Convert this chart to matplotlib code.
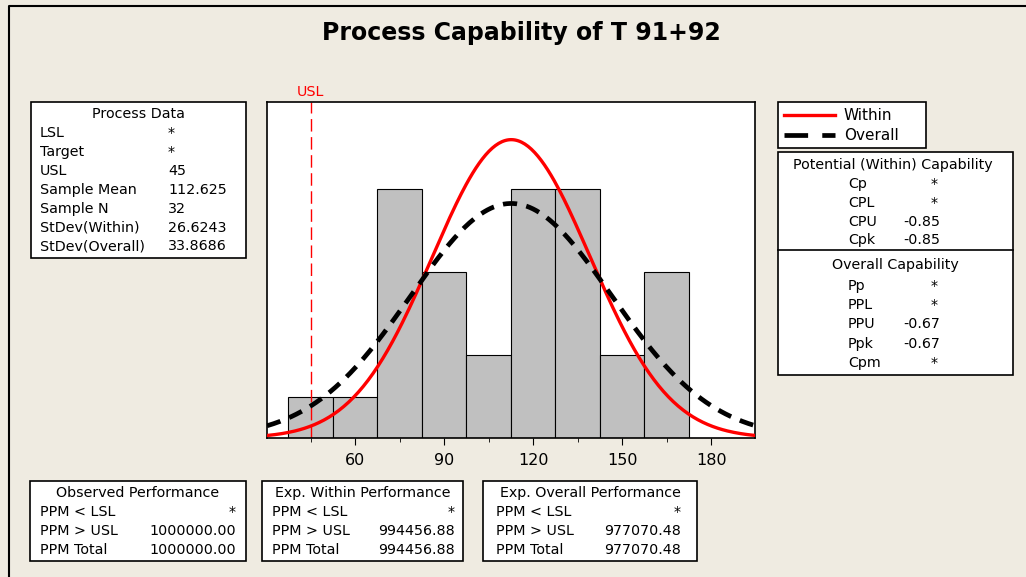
import numpy as np
import matplotlib.pyplot as plt
from matplotlib.patches import Rectangle
from matplotlib.lines import Line2D

# histogram data (counts per bin)
bin_edges = [37.5, 52.5, 67.5, 82.5, 97.5, 112.5, 127.5, 142.5, 157.5, 172.5]
counts = [1, 1, 6, 4, 2, 6, 6, 2, 4]

usl = 45
mean = 112.625
n = 32
sd_within = 26.6243
sd_overall = 33.8686

xticks = [60, 90, 120, 150, 180]
minor_ticks = [45, 75, 105, 135, 165]

process_labels = ["LSL", "Target", "USL", "Sample Mean", "Sample N", "StDev(Within)", "StDev(Overall)"]
process_values = ["*", "*", "45", "112.625", "32", "26.6243", "33.8686"]

pot_labels = ["Cp", "CPL", "CPU", "Cpk"]
pot_values = ["*", "*", "-0.85", "-0.85"]
ovr_labels = ["Pp", "PPL", "PPU", "Ppk", "Cpm"]
ovr_values = ["*", "*", "-0.67", "-0.67", "*"]

perf_labels = ["PPM < LSL", "PPM > USL", "PPM Total"]
observed = ["*", "1000000.00", "1000000.00"]
exp_within = ["*", "994456.88", "994456.88"]
exp_overall = ["*", "977070.48", "977070.48"]

W, H = 1026, 577
BG = '#EFEBE1'
FS = 10.3

fig = plt.figure(figsize=(W / 100, H / 100), dpi=100, facecolor=BG)


def fx(px):
    return px / W


def fy(py):
    return 1 - py / H


def txt(px, py, s, ha='left', **kw):
    fig.text(fx(px), fy(py), s, ha=ha, va='center', fontsize=kw.pop('fontsize', FS), **kw)


def box(x0, y0, x1, y1):
    fig.patches.append(Rectangle((fx(x0), fy(y1)), fx(x1) - fx(x0), fy(y0) - fy(y1),
                                 transform=fig.transFigure, facecolor='white',
                                 edgecolor='black', linewidth=1.2))


# outer frame (top and left only visible)
fig.lines.append(Line2D([fx(9), fx(9), 1], [0, fy(6), fy(6)], transform=fig.transFigure,
                        color='black', linewidth=1.5))

fig.text(fx(521), fy(33), "Process Capability of T 91+92", ha='center', va='center',
         fontsize=17, fontweight='bold')

# main histogram axes
ax = fig.add_axes([fx(267), fy(438), fx(755) - fx(267), fy(102) - fy(438)])
widths = np.diff(bin_edges)
ax.bar(bin_edges[:-1], counts, width=widths, align='edge', color='#C0C0C0',
       edgecolor='black', linewidth=0.8, zorder=1)

x = np.linspace(30.3, 194.8, 300)
scale = n * widths[0]
y_w = scale * np.exp(-0.5 * ((x - mean) / sd_within) ** 2) / (sd_within * np.sqrt(2 * np.pi))
y_o = scale * np.exp(-0.5 * ((x - mean) / sd_overall) ** 2) / (sd_overall * np.sqrt(2 * np.pi))
ax.plot(x, y_w, color='red', linewidth=2.4, zorder=3)
ax.plot(x, y_o, color='black', linewidth=3.4, dashes=(3, 2), zorder=3)
ax.axvline(usl, color='red', linewidth=1, dashes=(9, 4), zorder=2)
ax.text(usl, 8.18, "USL", color='red', ha='center', va='bottom', fontsize=FS)

ax.set_xlim(30.3, 194.8)
ax.set_ylim(0, 8.1)
ax.set_xticks(xticks)
ax.set_xticks(minor_ticks, minor=True)
ax.set_yticks([])
ax.tick_params(axis='x', which='major', length=5, labelsize=11.5, pad=6)
ax.tick_params(axis='x', which='minor', length=3)
for s in ax.spines.values():
    s.set_linewidth(1.2)

# Process Data box
box(31, 102, 246, 258)
txt(138, 114, "Process Data", ha='center')
for i, (l, v) in enumerate(zip(process_labels, process_values)):
    yy = 133 + i * 18.9
    txt(40, yy, l)
    txt(168, yy, v)

# legend box
box(778, 102, 926, 148)
fig.lines.append(Line2D([fx(784), fx(835)], [fy(115), fy(115)], transform=fig.transFigure,
                        color='red', linewidth=2.4))
fig.lines.append(Line2D([fx(784), fx(835)], [fy(135), fy(135)], transform=fig.transFigure,
                        color='black', linewidth=3.4, dashes=(5, 3)))
txt(844, 115, "Within", fontsize=11)
txt(844, 135, "Overall", fontsize=11)

# capability box
box(778, 152, 1013, 375)
fig.lines.append(Line2D([fx(778), fx(1013)], [fy(250), fy(250)], transform=fig.transFigure,
                        color='black', linewidth=1.2))
txt(893, 165, "Potential (Within) Capability", ha='center')
for i, (l, v) in enumerate(zip(pot_labels, pot_values)):
    yy = 184 + i * 18.8
    txt(848, yy, l)
    if v == "*":
        txt(934, yy, v, ha='center')
    else:
        txt(940, yy, v, ha='right')
txt(895, 265, "Overall Capability", ha='center')
for i, (l, v) in enumerate(zip(ovr_labels, ovr_values)):
    yy = 286 + i * 19.2
    txt(848, yy, l)
    if v == "*":
        txt(934, yy, v, ha='center')
    else:
        txt(940, yy, v, ha='right')

# performance boxes
perf = [("Observed Performance", observed, 30, 246, 236, 40),
        ("Exp. Within Performance", exp_within, 262, 463, 455, 272),
        ("Exp. Overall Performance", exp_overall, 483, 697, 681, 496)]
for title, vals, x0, x1, xr, xl in perf:
    box(x0, 481, x1, 561)
    txt((x0 + x1) / 2, 493, title, ha='center')
    for i, (l, v) in enumerate(zip(perf_labels, vals)):
        yy = 512 + i * 19
        txt(xl, yy, l)
        txt(xr, yy, v, ha='right')

fig.savefig("out.png", dpi=100, facecolor=BG)
